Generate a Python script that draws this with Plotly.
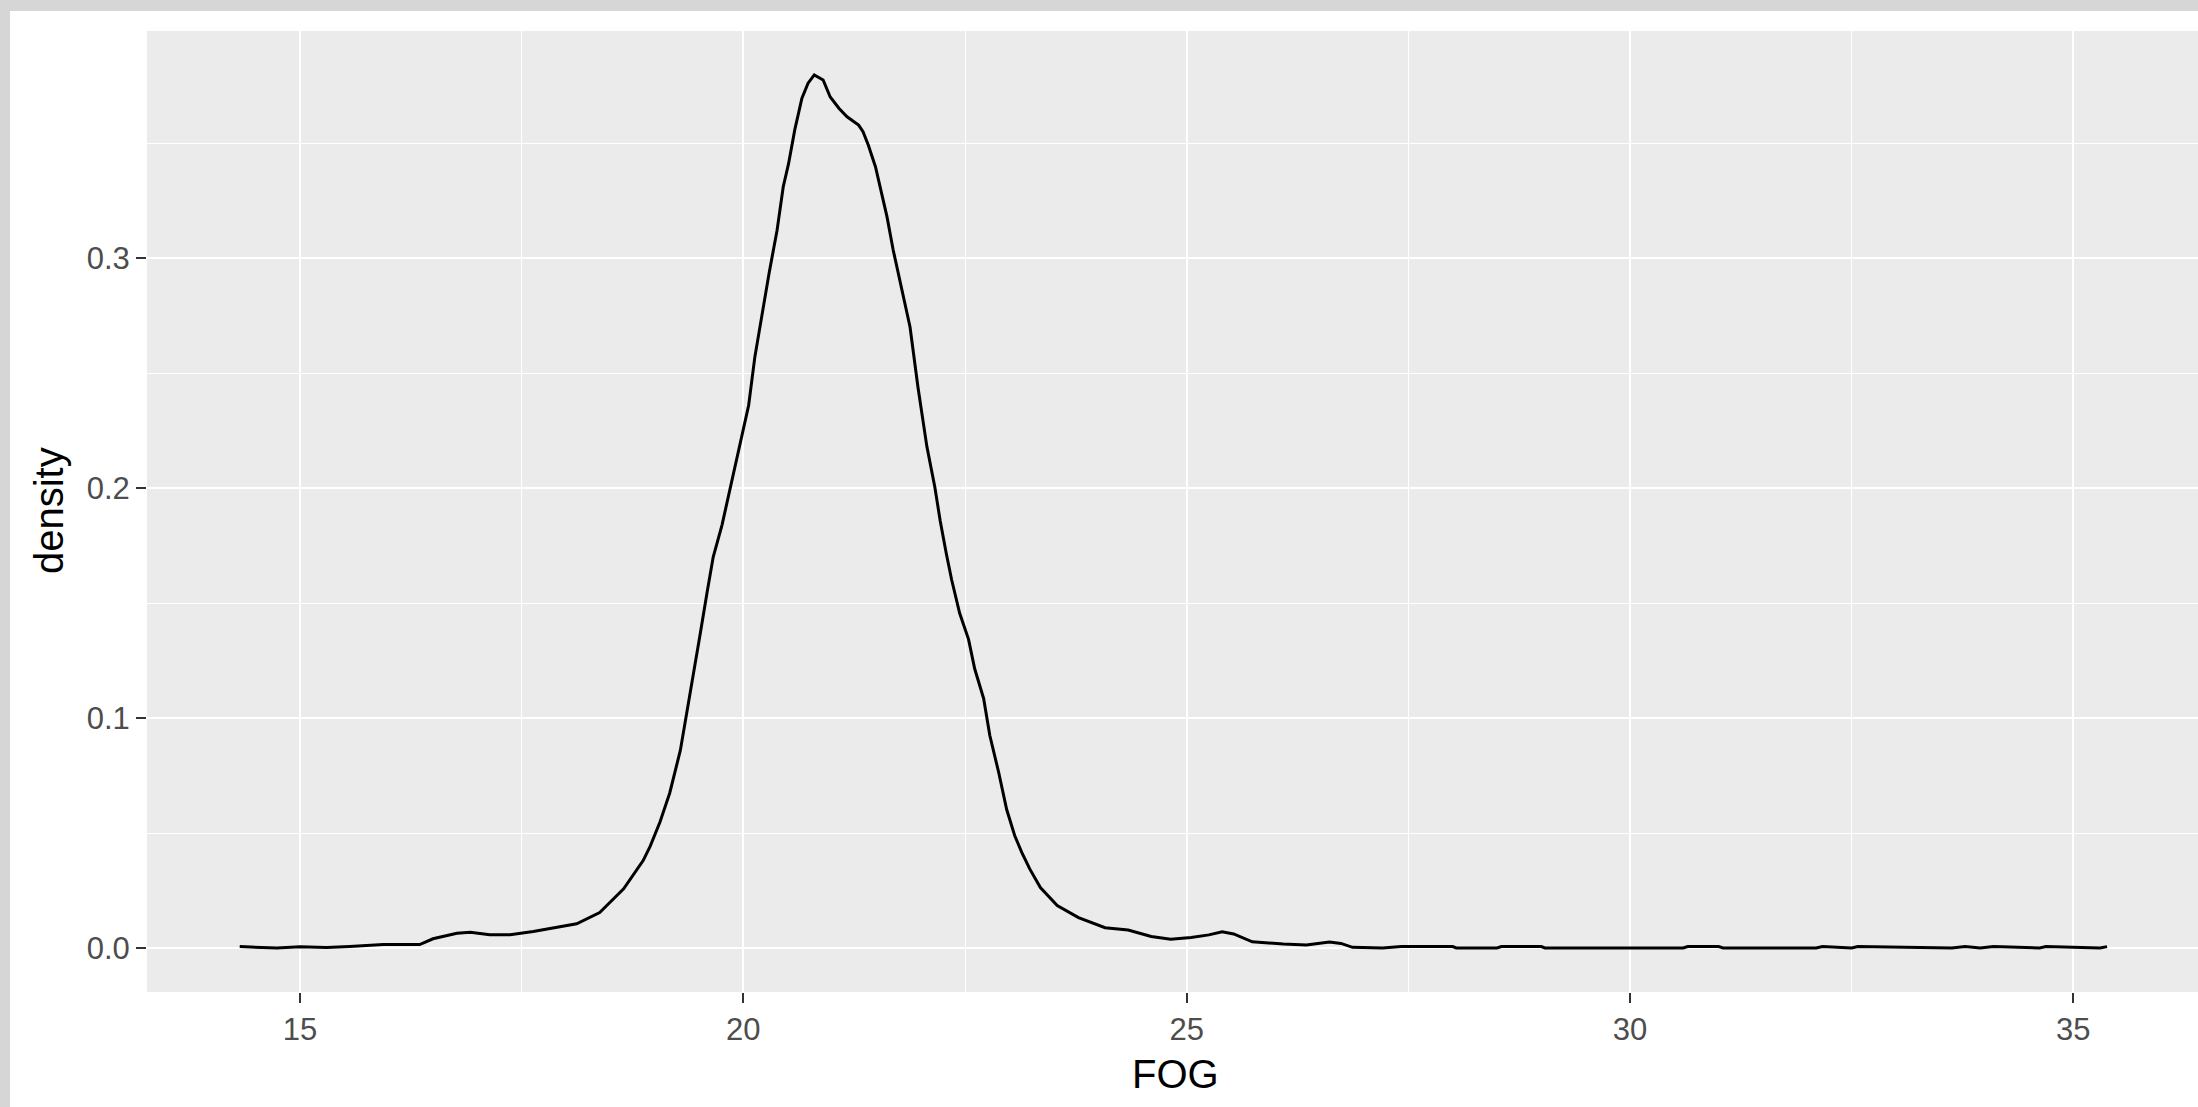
import plotly.graph_objects as go

# Density curve of FOG
fog = [14.32, 14.74, 15.00, 15.30, 15.56, 15.94, 16.35, 16.50, 16.77, 16.92,
       17.14, 17.37, 17.63, 17.93, 18.12, 18.38, 18.65, 18.87, 18.95, 19.06,
       19.17, 19.29, 19.36, 19.44, 19.51, 19.59, 19.66, 19.76, 19.85, 19.92,
       20.00, 20.06, 20.13, 20.21, 20.29, 20.38, 20.45, 20.51, 20.58, 20.66,
       20.73, 20.80, 20.90, 20.98, 21.08, 21.17, 21.30, 21.35, 21.41, 21.49,
       21.62, 21.69, 21.79, 21.88, 21.97, 22.07, 22.16, 22.22, 22.29, 22.35,
       22.44, 22.54, 22.61, 22.71, 22.78, 22.88, 22.97, 23.06, 23.14, 23.23,
       23.35, 23.54, 23.78, 24.08, 24.34, 24.60, 24.82, 25.05, 25.25, 25.40,
       25.53, 25.74, 26.09, 26.35, 26.61, 26.74, 26.87, 27.21, 27.42, 28.00,
       28.04, 28.50, 28.55, 29.00, 29.04, 30.60, 30.65, 31.00, 31.05, 32.10,
       32.17, 32.50, 32.57, 33.63, 33.78, 33.95, 34.10, 34.62, 34.69, 35.30,
       35.38]
density = [0.0006, 0.0000, 0.0005, 0.0002, 0.0006, 0.0015, 0.0015, 0.0040, 0.0064, 0.0068,
           0.0058, 0.0058, 0.0072, 0.0094, 0.0105, 0.0154, 0.0257, 0.0380, 0.0443, 0.0548,
           0.0674, 0.0860, 0.1017, 0.1187, 0.1358, 0.1543, 0.1700, 0.1840, 0.1996, 0.2119,
           0.2243, 0.2360, 0.2570, 0.2760, 0.2933, 0.3120, 0.3310, 0.3410, 0.3557, 0.3694,
           0.3760, 0.3796, 0.3774, 0.3700, 0.3650, 0.3614, 0.3578, 0.3549, 0.3490, 0.3397,
           0.3180, 0.3035, 0.2860, 0.2700, 0.2437, 0.2180, 0.2003, 0.1858, 0.1713, 0.1600,
           0.1455, 0.1342, 0.1213, 0.1085, 0.0924, 0.0763, 0.0602, 0.0489, 0.0416, 0.0344,
           0.0263, 0.0185, 0.0132, 0.0088, 0.0078, 0.0050, 0.0038, 0.0046, 0.0057, 0.0071,
           0.0061, 0.0027, 0.0017, 0.0013, 0.0026, 0.0020, 0.0003, 0.0000, 0.0006, 0.0006,
           0.0000, 0.0000, 0.0006, 0.0006, 0.0000, 0.0000, 0.0006, 0.0006, 0.0000, 0.0000,
           0.0006, 0.0000, 0.0006, 0.0000, 0.0006, 0.0000, 0.0006, 0.0000, 0.0006, 0.0000,
           0.0006]

x_ticks = [15, 20, 25, 30, 35]
y_ticks = [0.0, 0.1, 0.2, 0.3]
y_tick_labels = ["0.0", "0.1", "0.2", "0.3"]
x_title = "FOG"
y_title = "density"

W, H = 2198, 1107
L, R, T, B = 147, 0, 31, 115
plot_w = W - L - R
plot_h = H - T - B

FONT = "Liberation Sans, Arial, sans-serif"
FRAME = "#d6d6d6"

fig = go.Figure()
fig.add_trace(go.Scatter(
    x=fog, y=density, mode="lines",
    line=dict(color="black", width=3),
    hoverinfo="skip", showlegend=False,
))

axis_common = dict(
    showline=False, zeroline=False,
    showgrid=True, gridcolor="white", gridwidth=2.4,
    ticks="outside", ticklen=10, tickwidth=2.4, tickcolor="#333333",
    tickfont=dict(family=FONT, size=31, color="#4D4D4D"),
)

# outer textured frame: thin gray strips at the left and top of the picture
frame_left = dict(type="rect", xref="paper", yref="paper", layer="below",
                  x0=-L / plot_w, x1=(10 - L) / plot_w,
                  y0=-(B + 5) / plot_h, y1=1 + (T + 5) / plot_h,
                  fillcolor=FRAME, line=dict(width=0))
frame_top = dict(type="rect", xref="paper", yref="paper", layer="below",
                 x0=-L / plot_w, x1=1.01,
                 y0=1 + (T - 11) / plot_h, y1=1 + (T + 5) / plot_h,
                 fillcolor=FRAME, line=dict(width=0))

fig.update_layout(
    width=W, height=H,
    margin=dict(l=L, r=R, t=T, b=B, pad=0),
    paper_bgcolor="white",
    plot_bgcolor="#EBEBEB",
    xaxis=dict(range=[13.2744, 36.406], tickvals=x_ticks,
               minor=dict(dtick=2.5, tick0=12.5, showgrid=True, gridcolor="white",
                          gridwidth=1.2, ticks=""),
               **axis_common),
    yaxis=dict(range=[-0.01913, 0.3987], tickvals=y_ticks, ticktext=y_tick_labels,
               minor=dict(dtick=0.05, tick0=0.05, showgrid=True, gridcolor="white",
                          gridwidth=1.2, ticks=""),
               **axis_common),
    shapes=[frame_left, frame_top],
    annotations=[
        dict(text=x_title, xref="paper", yref="paper",
             x=(1175 - L) / plot_w, y=(H - B - 1074) / plot_h,
             xanchor="center", yanchor="middle", showarrow=False,
             font=dict(family=FONT, size=40, color="black")),
        dict(text=y_title, xref="paper", yref="paper",
             x=(49 - L) / plot_w, y=(H - B - 511) / plot_h,
             xanchor="center", yanchor="middle", textangle=-90, showarrow=False,
             font=dict(family=FONT, size=40, color="black")),
    ],
)

fig.write_html("out.html")
